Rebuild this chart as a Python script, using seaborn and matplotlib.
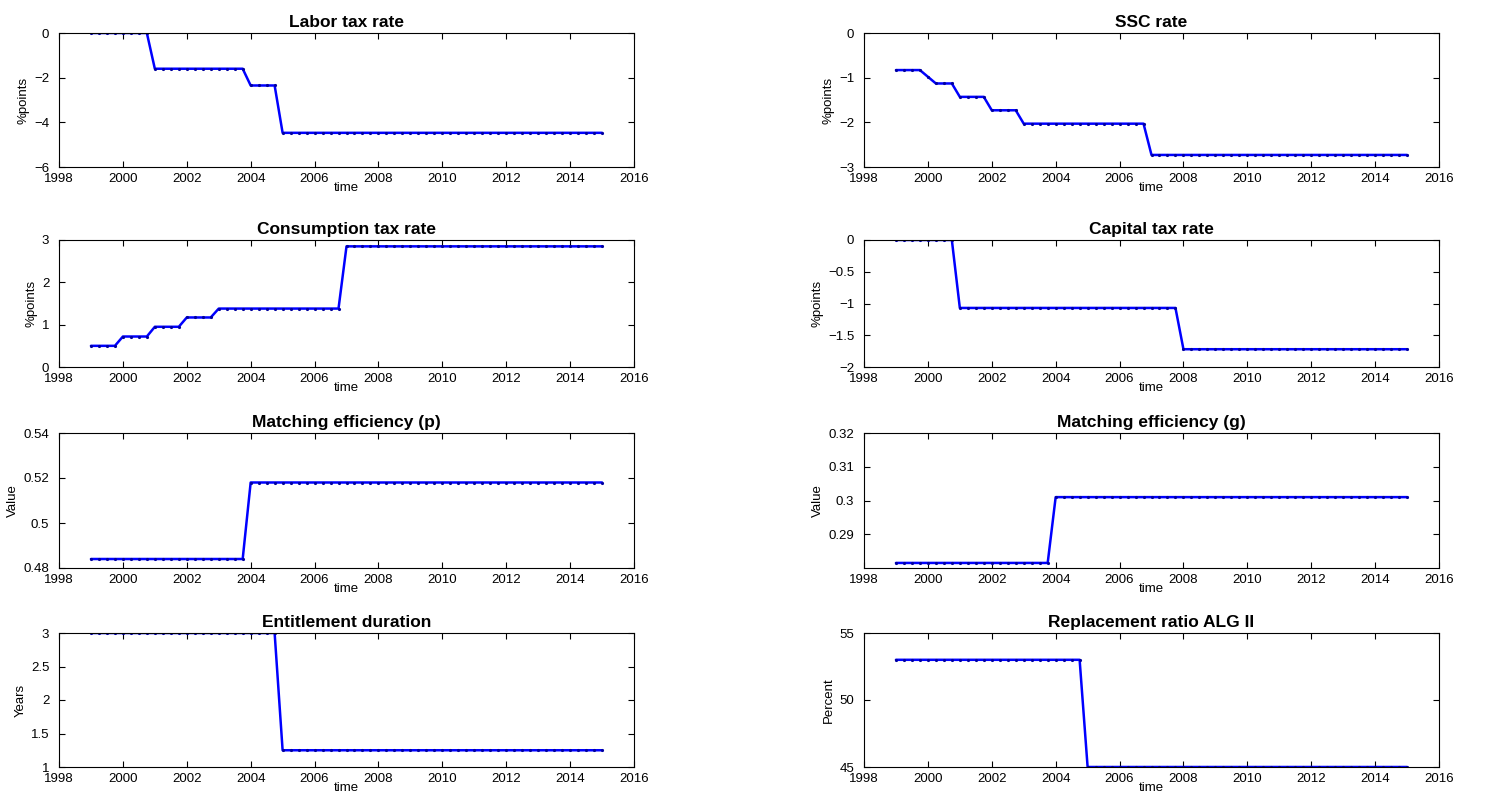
import numpy as np
import pandas as pd
import matplotlib
matplotlib.use('Agg')
import matplotlib.pyplot as plt
import seaborn as sns

sns.set_style('ticks')
plt.rcParams['font.family'] = ['Liberation Sans', 'DejaVu Sans']
plt.rcParams['text.color'] = 'black'
plt.rcParams['axes.labelcolor'] = 'black'

# quarterly time grid 1999Q1 .. 2015Q1
time = [1999 + q / 4 for q in range(65)]

# step series: (first quarter of level, level)
labor_steps = [(1999.0, 0.0), (2001.0, -1.6), (2004.0, -2.35), (2005.0, -4.47)]
ssc_steps = [(1999.0, -0.83), (2000.0, -0.98), (2000.25, -1.13), (2001.0, -1.43),
             (2002.0, -1.73), (2003.0, -2.03), (2007.0, -2.73)]
cons_steps = [(1999.0, 0.5), (2000.0, 0.72), (2001.0, 0.95), (2002.0, 1.17),
              (2003.0, 1.38), (2007.0, 2.85)]
cap_steps = [(1999.0, 0.0), (2001.0, -1.07), (2008.0, -1.72)]
match_p_steps = [(1999.0, 0.484), (2004.0, 0.518)]
match_g_steps = [(1999.0, 0.2815), (2004.0, 0.301)]
entitle_steps = [(1999.0, 3.0), (2005.0, 1.25)]
repl_steps = [(1999.0, 53.0), (2005.0, 45.0)]


def expand(steps):
    vals = []
    for t in time:
        v = steps[0][1]
        for s, lev in steps:
            if t >= s - 1e-9:
                v = lev
        vals.append(v)
    return vals


M = '\u2212'
panels = [
    ('Labor tax rate', labor_steps, '%points', (-6, 0), [-6, -4, -2, 0], [M + '6', M + '4', M + '2', '0']),
    ('SSC rate', ssc_steps, '%points', (-3, 0), [-3, -2, -1, 0], [M + '3', M + '2', M + '1', '0']),
    ('Consumption tax rate', cons_steps, '%points', (0, 3), [0, 1, 2, 3], ['0', '1', '2', '3']),
    ('Capital tax rate', cap_steps, '%points', (-2, 0), [-2, -1.5, -1, -0.5, 0],
     [M + '2', M + '1.5', M + '1', M + '0.5', '0']),
    ('Matching efficiency (p)', match_p_steps, 'Value', (0.48, 0.54), [0.48, 0.5, 0.52, 0.54],
     ['0.48', '0.5', '0.52', '0.54']),
    ('Matching efficiency (g)', match_g_steps, 'Value', (0.28, 0.32), [0.29, 0.3, 0.31, 0.32],
     ['0.29', '0.3', '0.31', '0.32']),
    ('Entitlement duration', entitle_steps, 'Years', (1, 3), [1, 1.5, 2, 2.5, 3],
     ['1', '1.5', '2', '2.5', '3']),
    ('Replacement ratio ALG II', repl_steps, 'Percent', (45, 55), [45, 50, 55], ['45', '50', '55']),
]

fig = plt.figure(figsize=(14.88, 7.97), dpi=100)
W, H = 1488, 797
lefts = [59, 864]
tops = [33, 240, 433, 633]
heights = [134, 127, 135, 134]
aw = 575

for i, (title, steps, ylab, ylim, yticks, ytl) in enumerate(panels):
    r, c = divmod(i, 2)
    ax = fig.add_axes([lefts[c] / W, 1 - (tops[r] + heights[r]) / H, aw / W, heights[r] / H])
    df = pd.DataFrame({'time': time, 'value': expand(steps)})
    sns.lineplot(data=df, x='time', y='value', ax=ax, color='#0000ff', linewidth=1.8,
                 marker='.', markersize=3, markeredgecolor='#0000a0', markerfacecolor='#0000a0')
    ax.set_xlim(1998, 2016)
    ax.set_xticks(range(1998, 2017, 2))
    ax.set_ylim(*ylim)
    ax.set_yticks(yticks)
    ax.set_yticklabels(ytl)
    ax.set_title(title, fontsize=12.5, fontweight='bold', pad=4, color='black')
    ax.set_xlabel('time', fontsize=9.5, labelpad=-2)
    ax.set_ylabel(ylab, fontsize=9.5, labelpad=3)
    ax.tick_params(direction='in', labelsize=9.5, top=True, right=True, length=4, colors='black')
    ax.tick_params(axis='x', pad=4)
    ax.tick_params(axis='y', pad=7)
    for s in ax.spines.values():
        s.set_linewidth(0.8)
        s.set_color('black')

fig.savefig('out.png', dpi=100)
